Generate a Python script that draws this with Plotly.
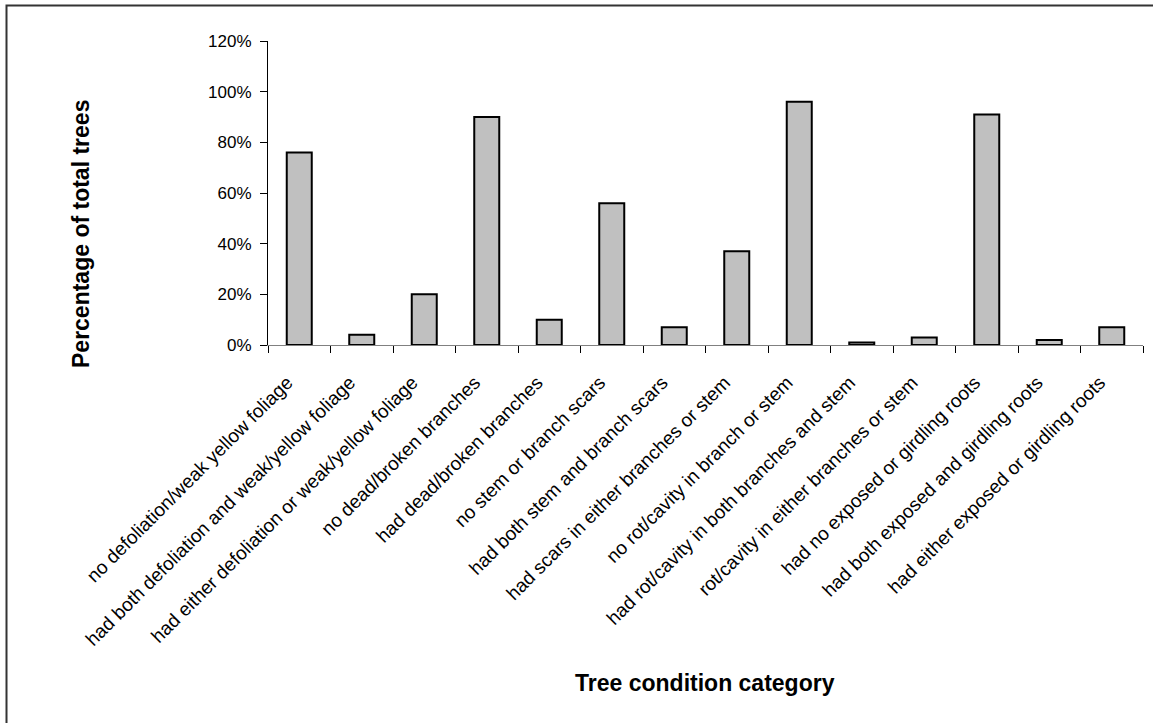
import plotly.graph_objects as go

categories = [
    "no defoliation/weak yellow foliage",
    "had both defoliation and weak/yellow foliage",
    "had either defoliation or weak/yellow foliage",
    "no dead/broken branches",
    "had dead/broken branches",
    "no stem or branch scars",
    "had both stem and branch scars",
    "had scars in either branches or stem",
    "no rot/cavity in branch or stem",
    "had rot/cavity in both branches and stem",
    "rot/cavity in either branches or stem",
    "had no exposed or girdling roots",
    "had both exposed and girdling roots",
    "had either exposed or girdling roots",
]
values = [0.76, 0.04, 0.20, 0.90, 0.10, 0.56, 0.07, 0.37, 0.96, 0.01, 0.03, 0.91, 0.02, 0.07]
y_ticks = [0, 0.2, 0.4, 0.6, 0.8, 1.0, 1.2]

FONT = "Liberation Sans Narrow, Arial Narrow, Liberation Sans, Arial, sans-serif"

W, H = 1153, 723
L, R, T, B = 268, 1143, 41, 345
pw, ph = R - L, B - T

def px(x):
    return (x - L) / pw

def py(y):
    return (B - y) / ph

fig = go.Figure(
    go.Bar(
        x=categories,
        y=values,
        marker=dict(color="#C0C0C0", line=dict(color="#000000", width=2)),
        width=0.4,
    )
)

fig.update_layout(
    width=W,
    height=H,
    margin=dict(l=L, r=W - R, t=T, b=H - B, autoexpand=False),
    paper_bgcolor="white",
    plot_bgcolor="white",
    showlegend=False,
    font=dict(family=FONT, color="#000000"),
    xaxis=dict(
        type="category",
        tickangle=-45,
        tickson="boundaries",
        ticks="outside",
        ticklen=7,
        tickcolor="#000000",
        ticklabelshift=-12,
        ticklabelstandoff=18,
        showline=True,
        linecolor="#808080",
        linewidth=1,
        showgrid=False,
        tickfont=dict(family=FONT, size=19, color="#000000"),
    ),
    yaxis=dict(
        range=[0, 1.2],
        tickvals=y_ticks,
        tickformat=".0%",
        ticks="outside",
        ticklen=7,
        tickcolor="#000000",
        ticklabelstandoff=5,
        showline=True,
        linecolor="#000000",
        linewidth=1,
        showgrid=False,
        zeroline=False,
        tickfont=dict(family=FONT, size=17, color="#000000"),
    ),
    annotations=[
        dict(
            text="<b>Percentage of total trees</b>",
            xref="paper", yref="paper",
            x=px(81), y=py(234),
            textangle=-90, showarrow=False,
            xanchor="center", yanchor="middle",
            font=dict(family=FONT, size=23, color="#000000"),
        ),
        dict(
            text="<b>Tree condition category</b>",
            xref="paper", yref="paper",
            x=px(705), y=py(683),
            showarrow=False,
            xanchor="center", yanchor="middle",
            font=dict(family=FONT, size=23, color="#000000"),
        ),
    ],
    shapes=[
        dict(
            type="rect", xref="paper", yref="paper",
            x0=px(6.5), x1=px(1175), y0=py(740), y1=py(5.5),
            line=dict(color="#333333", width=2),
            fillcolor="rgba(0,0,0,0)",
        )
    ],
)

fig.write_html(
    "out.html",
    config={"displayModeBar": False},
    post_script="document.body.style.margin='0';document.body.style.overflow='hidden';",
)
